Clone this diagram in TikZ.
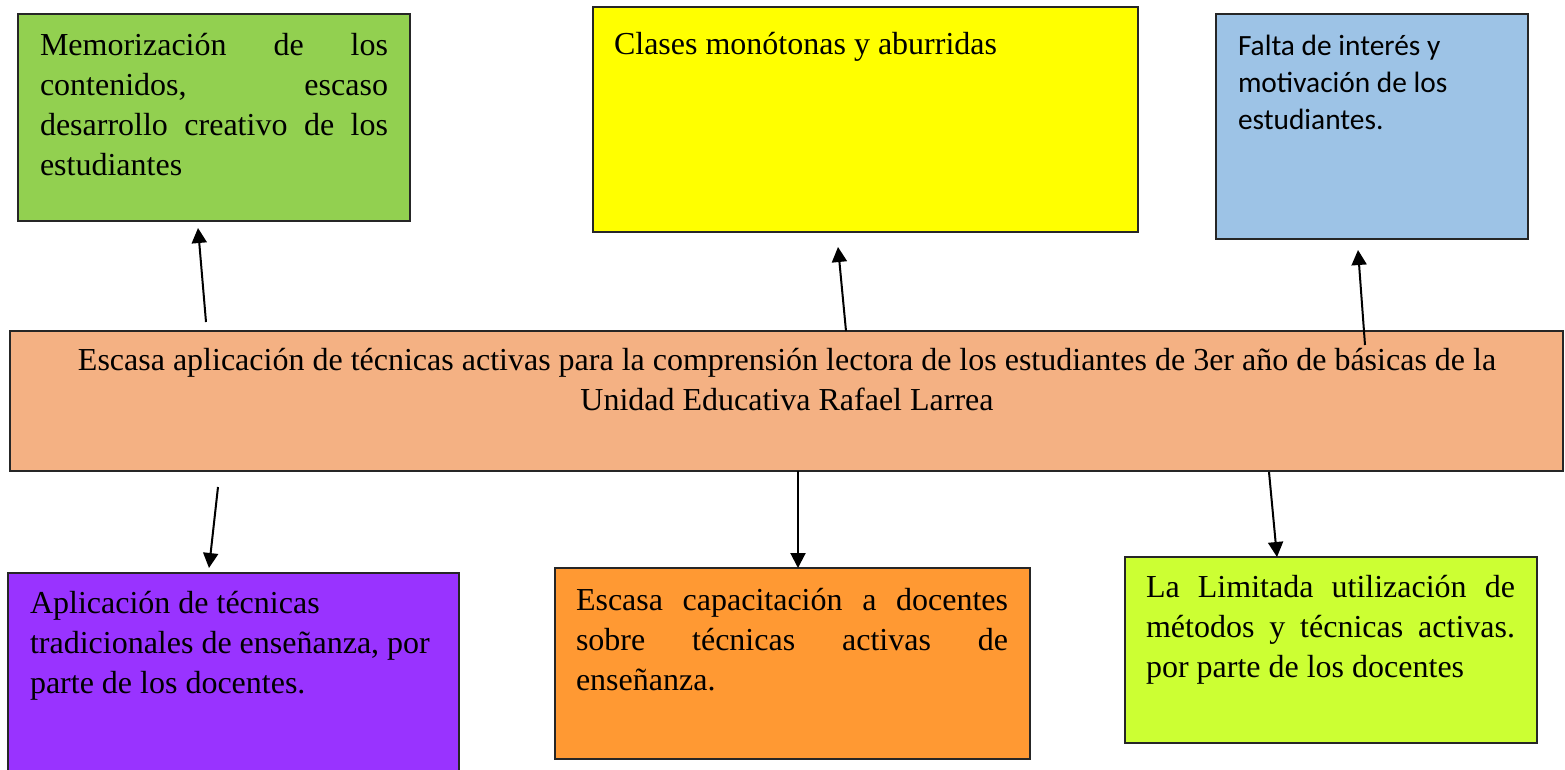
\documentclass[tikz,border=0pt]{standalone}
\usepackage{fontspec}
\setmainfont{Liberation Serif}
\newfontfamily\calibri{Carlito}
\usetikzlibrary{arrows.meta}
\definecolor{cgreen}{HTML}{92D050}
\definecolor{cyellow}{HTML}{FFFF00}
\definecolor{cblue}{HTML}{9DC3E6}
\definecolor{ctan}{HTML}{F4B183}
\definecolor{cpurple}{HTML}{9933FF}
\definecolor{corange}{HTML}{FF9933}
\definecolor{clime}{HTML}{CCFF33}
\newcommand\jl[1]{\makebox[\linewidth][s]{#1}\\}
\begin{document}
\begin{tikzpicture}[x=0.4pt,y=-0.4pt,
  box/.style={draw=black!85, line width=0.7pt, anchor=north west, inner sep=0pt, outer sep=0pt},
  wh/.style 2 args={minimum width=#1*0.4pt, minimum height=#2*0.4pt},
  txt/.style={inner sep=0pt, outer sep=0pt, anchor=base west, font=\fontsize{12.8}{16}\selectfont},
  ctxt/.style={inner sep=0pt, outer sep=0pt, anchor=base, font=\fontsize{12.8}{16}\selectfont},
  btxt/.style={inner sep=0pt, outer sep=0pt, anchor=base west, font=\calibri\fontsize{11.75}{14.8}\selectfont},
  arr/.style={line width=0.8pt, -{Triangle[length=6pt,width=6pt]}}]
\clip (0,0) rectangle (1565,769);
\fill[white] (0,0) rectangle (1565,769);

% boxes
\node[box, fill=cgreen, wh={392}{207}] (g) at (18,14) {};
\node[box, fill=cyellow, wh={545}{225}] (y) at (593,7) {};
\node[box, fill=cblue, wh={312}{225}] (b) at (1216,14) {};
\node[box, fill=ctan, wh={1553}{140}] (c) at (10,331) {};
\node[box, fill=cpurple, wh={451}{215}] (p) at (8,573) {};
\node[box, fill=corange, wh={475}{191}] (o) at (555,568) {};
\node[box, fill=clime, wh={412}{186}] (l) at (1125,557) {};

% texts
\node[txt] (gt) at (40,55) {\parbox[t]{139.2pt}{\jl{Memorización de los}\jl{contenidos, escaso}\jl{desarrollo creativo de los}estudiantes}};
\node[txt] (yt) at (614,54) {Clases monótonas y aburridas};
\node[btxt] (bt) at (1238,55) {\parbox[t]{125pt}{Falta de interés y\\motivación de los\\estudiantes.}};
\node[ctxt] (ct) at (787,370) {\parbox[t]{620pt}{\centering Escasa aplicación de técnicas activas para la comprensión lectora de los estudiantes de 3er año de básicas de la\\Unidad Educativa Rafael Larrea}};
\node[txt] (pt) at (30,613) {\parbox[t]{175pt}{Aplicación de técnicas\\tradicionales de enseñanza, por\\parte de los docentes.}};
\node[txt] (ot) at (576,610) {\parbox[t]{172.8pt}{\jl{Escasa capacitación a docentes}\jl{sobre técnicas activas de}enseñanza.}};
\node[txt] (lt) at (1146,597) {\parbox[t]{147.6pt}{\jl{La Limitada utilización de}\jl{métodos y técnicas activas.}por parte de los docentes}};

% arrow ends
\coordinate (u1s) at (206,322); \coordinate (u1e) at (198,228);
\coordinate (u2s) at (846,331); \coordinate (u2e) at (838,247);
\coordinate (u3s) at (1365,345); \coordinate (u3e) at (1358,250);
\coordinate (d1s) at (218,487); \coordinate (d1e) at (209,568);
\coordinate (d2s) at (798,471); \coordinate (d2e) at (798,568);
\coordinate (d3s) at (1269,472); \coordinate (d3e) at (1277,557);

\draw[arr] (u1s) -- (u1e);
\draw[arr] (u2s) -- (u2e);
\draw[arr] (u3s) -- (u3e);
\draw[arr] (d1s) -- (d1e);
\draw[arr] (d2s) -- (d2e);
\draw[arr] (d3s) -- (d3e);
\end{tikzpicture}
\end{document}
